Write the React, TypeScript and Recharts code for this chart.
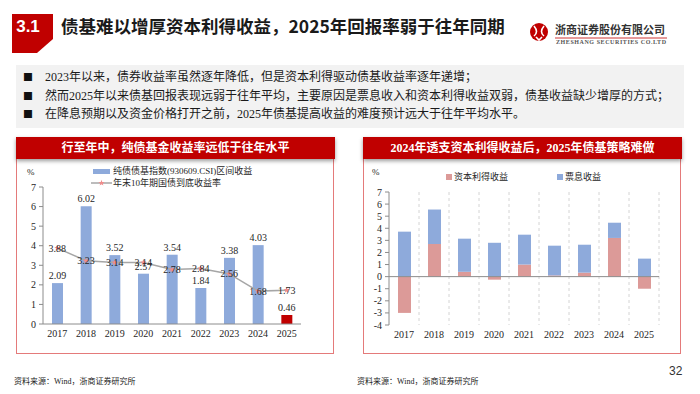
import {
  Bar,
  BarChart,
  CartesianGrid,
  Cell,
  ComposedChart,
  LabelList,
  Line,
  ReferenceLine,
  XAxis,
  YAxis,
} from "recharts";

const YEARS = ["2017", "2018", "2019", "2020", "2021", "2022", "2023", "2024", "2025"];
// left chart: pure bond fund index return and year-end 10y treasury yield
const FUND_RETURN = [2.09, 6.02, 3.52, 2.57, 3.54, 1.84, 3.38, 4.03, 0.46];
const GOV_YIELD = [3.88, 3.23, 3.14, 3.14, 2.78, 2.84, 2.56, 1.68, 1.73];
// right chart: return split into capital gain and coupon
const CAPITAL_GAIN = [-3.0, 2.7, 0.4, -0.25, 1.0, 0.1, 0.33, 3.2, -1.0];
const COUPON = [3.72, 2.85, 2.74, 2.8, 2.47, 2.46, 2.31, 1.26, 1.49];
const LEFT_TICKS = [0, 1, 2, 3, 4, 5, 6, 7];
const RIGHT_TICKS = [-4, -3, -2, -1, 0, 1, 2, 3, 4, 5, 6, 7];

const BULLETS = [
  "2023年以来，债券收益率虽然逐年降低，但是资本利得驱动债基收益率逐年递增；",
  "然而2025年以来债基回报表现远弱于往年平均，主要原因是票息收入和资本利得收益双弱，债基收益缺少增厚的方式；",
  "在降息预期以及资金价格打开之前，2025年债基提高收益的难度预计远大于往年平均水平。",
];

const SERIF = "'Liberation Serif', 'Noto Sans CJK SC', serif";
const SANS = "'Noto Sans CJK SC', 'Liberation Sans', sans-serif";
const RED = "#c00000";
const BLUE = "#8eaadb";
const PINK = "#dc9a98";
const AXIS = "#8c8c8c";
const BORDER = "#e47a7a";

const StarDot = (props: any) => {
  const { cx, cy } = props;
  if (cx == null || cy == null) return null;
  const pts: string[] = [];
  for (let i = 0; i < 10; i++) {
    const r = i % 2 === 0 ? 3.2 : 1.3;
    const a = -Math.PI / 2 + (i * Math.PI) / 5;
    pts.push(`${cx + r * Math.cos(a)},${cy + r * Math.sin(a)}`);
  }
  return <polygon points={pts.join(" ")} fill="#f08c8c" />;
};

const CenterLabel = (props: any) => {
  const { x, y, value } = props;
  return (
    <text x={x} y={y} dy="0.35em" textAnchor="middle" fontSize={10} fontFamily={SERIF} fill="#262626">
      {value}
    </text>
  );
};

const Panel = ({ left, title }: { left: number; title: string }) => (
  <>
    <div
      style={{
        position: "absolute",
        left,
        top: 137,
        width: 316,
        height: 215,
        border: `1.5px solid ${BORDER}`,
      }}
    />
    <div
      style={{
        position: "absolute",
        left,
        top: 137,
        width: 319,
        height: 22,
        background: RED,
        boxShadow: "0 2px 4px rgba(0,0,0,0.4)",
        color: "#fff",
        fontFamily: SERIF,
        fontWeight: 700,
        fontSize: 12,
        lineHeight: "22px",
        textAlign: "center",
      }}
    >
      {title}
    </div>
  </>
);

const LeftChart = () => {
  const data = YEARS.map((year, i) => ({ year, fund: FUND_RETURN[i], yield10: GOV_YIELD[i] }));
  return (
    <div style={{ position: "absolute", left: 16, top: 160 }}>
      <ComposedChart width={318} height={194} data={data} margin={{ top: 27, right: 33, bottom: 0, left: 0 }}>
        <XAxis
          dataKey="year"
          height={30}
          stroke={AXIS}
          tickLine={false}
          tickSize={4}
          tickMargin={2}
          interval={0}
          tick={{ fontSize: 10, fontFamily: SERIF, fill: "#262626" }}
        />
        <YAxis
          width={27}
          domain={[0, 7]}
          ticks={LEFT_TICKS}
          interval={0}
          stroke={AXIS}
          tickSize={4}
          tickMargin={3}
          tick={{ fontSize: 10, fontFamily: SERIF, fill: "#262626" }}
        />
        <Bar dataKey="fund" barSize={11} isAnimationActive={false}>
          {data.map((d, i) => (
            <Cell key={d.year} fill={i === data.length - 1 ? RED : BLUE} />
          ))}
          <LabelList dataKey="fund" position="top" offset={4} fontSize={10} fontFamily={SERIF} fill="#262626" />
        </Bar>
        <Line
          dataKey="yield10"
          stroke="#a6a6a6"
          strokeWidth={1.5}
          dot={<StarDot />}
          activeDot={false}
          isAnimationActive={false}
        >
          <LabelList dataKey="yield10" content={<CenterLabel />} />
        </Line>
      </ComposedChart>
    </div>
  );
};

const RightChart = () => {
  const data = YEARS.map((year, i) => ({ year, gain: CAPITAL_GAIN[i], coupon: COUPON[i] }));
  return (
    <div style={{ position: "absolute", left: 363, top: 160 }}>
      <BarChart
        width={318}
        height={194}
        data={data}
        stackOffset="sign"
        margin={{ top: 32, right: 22, bottom: 0, left: 0 }}
      >
        <CartesianGrid
          horizontal={false}
          strokeDasharray="3 3"
          stroke="#d4d4d4"
          verticalCoordinatesGenerator={({ offset }: any) =>
            YEARS.map((_, i) => offset.left + ((i + 1) * offset.width) / YEARS.length)
          }
        />
        <XAxis
          dataKey="year"
          height={29}
          axisLine={false}
          tickLine={false}
          tickSize={4}
          tickMargin={2}
          interval={0}
          tick={{ fontSize: 10, fontFamily: SERIF, fill: "#262626" }}
        />
        <YAxis
          width={26}
          domain={[-4, 7]}
          ticks={RIGHT_TICKS}
          interval={0}
          stroke={AXIS}
          tickSize={4}
          tickMargin={3}
          tick={{ fontSize: 10, fontFamily: SERIF, fill: "#262626" }}
        />
        <Bar dataKey="gain" stackId="a" fill={PINK} barSize={13} isAnimationActive={false} />
        <Bar dataKey="coupon" stackId="a" fill={BLUE} barSize={13} isAnimationActive={false} />
        <ReferenceLine y={0} stroke={AXIS} />
      </BarChart>
    </div>
  );
};

const legendText = { position: "absolute" as const, fontSize: 9, fontFamily: SERIF, color: "#262626", lineHeight: "12px" };

export default function App() {
  return (
    <div
      style={{
        position: "absolute",
        left: 0,
        top: 0,
        width: 700,
        height: 394,
        background: "#fff",
        overflow: "hidden",
        fontFamily: SANS,
      }}
    >
      {/* header */}
      <svg style={{ position: "absolute", left: 0, top: 0 }} width={700} height={60}>
        <polygon points="12,14 53,14 53,39 37,53 12,53" fill={RED} />
        <text x={28} y={32} textAnchor="middle" fill="#fff" fontSize={17} fontWeight={700} fontFamily="'Liberation Sans', sans-serif">
          3.1
        </text>
        <circle cx={539} cy={32} r={9} fill={RED} />
        <path d="M534,26 q5,6 0,10 M544,26 q-5,6 0,10 M536,37 l3,3 l3,-3" stroke="#fff" strokeWidth={1.6} fill="none" />
        <line x1={555} y1={38} x2={667} y2={38} stroke={RED} strokeWidth={0.8} />
        <text x={611} y={43.5} textAnchor="middle" fontSize={6} fontWeight={700} fontFamily={SERIF} fill="#555" textLength={110}>
          ZHESHANG SECURITIES CO.LTD
        </text>
      </svg>
      <div
        style={{
          position: "absolute",
          left: 61,
          top: 14,
          fontSize: 17.5,
          fontWeight: 700,
          lineHeight: "24px",
          color: "#1a1a1a",
          whiteSpace: "nowrap",
        }}
      >
        债基难以增厚资本利得收益，2025年回报率弱于往年同期
      </div>
      <div
        style={{
          position: "absolute",
          left: 555,
          top: 22,
          fontSize: 11,
          fontWeight: 700,
          lineHeight: "14px",
          color: "#333",
          whiteSpace: "nowrap",
        }}
      >
        浙商证券股份有限公司
      </div>

      {/* bullet box */}
      <div style={{ position: "absolute", left: 16, top: 65, width: 668, height: 63, background: "#f2f2f2" }} />
      {BULLETS.map((t, i) => (
        <div key={i}>
          <div style={{ position: "absolute", left: 23, top: 70 + i * 18.5, fontSize: 10, lineHeight: "14px", color: "#111" }}>■</div>
          <div
            style={{
              position: "absolute",
              left: 45,
              top: 70 + i * 18.5,
              fontSize: 12,
              lineHeight: "14px",
              fontFamily: SERIF,
              color: "#1a1a1a",
              whiteSpace: "nowrap",
            }}
          >
            {t}
          </div>
        </div>
      ))}

      {/* panels */}
      <Panel left={16} title="行至年中，纯债基金收益率远低于往年水平" />
      <Panel left={363} title="2024年透支资本利得收益后，2025年债基策略难做" />

      <LeftChart />
      <RightChart />

      {/* left legend */}
      <div style={{ position: "absolute", left: 27, top: 167, fontSize: 9, fontFamily: SERIF, color: "#262626" }}>%</div>
      <div style={{ position: "absolute", left: 93, top: 169, width: 17, height: 5, background: BLUE }} />
      <div style={{ ...legendText, left: 113, top: 165 }}>纯债债基指数(930609.CSI)区间收益</div>
      <svg style={{ position: "absolute", left: 90, top: 178 }} width={24} height={10}>
        <line x1={1} y1={5} x2={22} y2={5} stroke="#a6a6a6" strokeWidth={1.5} />
        <StarDot cx={11.5} cy={5} />
      </svg>
      <div style={{ ...legendText, left: 113, top: 177 }}>年末10年期国债到底收益率</div>

      {/* right legend */}
      <div style={{ position: "absolute", left: 372, top: 167, fontSize: 9, fontFamily: SERIF, color: "#262626" }}>%</div>
      <div style={{ position: "absolute", left: 446, top: 174, width: 6, height: 6, background: PINK }} />
      <div style={{ ...legendText, left: 454, top: 171 }}>资本利得收益</div>
      <div style={{ position: "absolute", left: 557, top: 174, width: 6, height: 6, background: BLUE }} />
      <div style={{ ...legendText, left: 565, top: 171 }}>票息收益</div>

      {/* footer */}
      <div style={{ position: "absolute", left: 14, top: 375, fontSize: 8, fontFamily: SERIF, color: "#222", whiteSpace: "nowrap" }}>
        资料来源：Wind，浙商证券研究所
      </div>
      <div style={{ position: "absolute", left: 357, top: 375, fontSize: 8, fontFamily: SERIF, color: "#222", whiteSpace: "nowrap" }}>
        资料来源：Wind，浙商证券研究所
      </div>
      <div style={{ position: "absolute", left: 669, top: 364, fontSize: 12, fontFamily: "'Liberation Sans', sans-serif", color: "#333" }}>
        32
      </div>
    </div>
  );
}
